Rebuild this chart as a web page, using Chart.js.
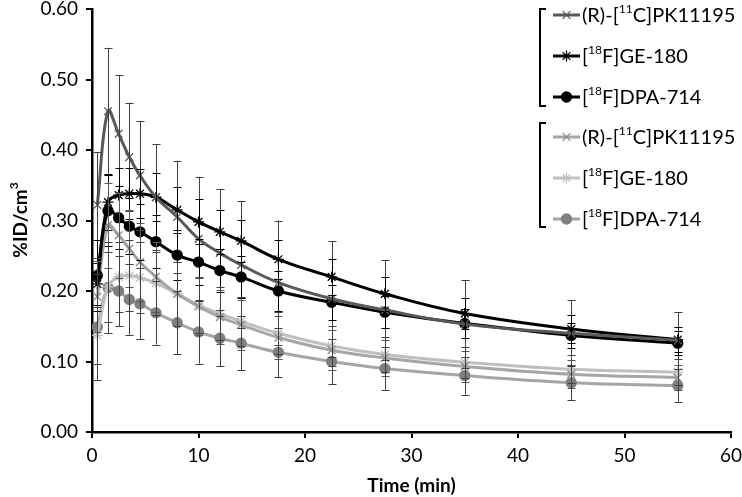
<!DOCTYPE html>
<html>
<head>
<meta charset="utf-8">
<script src="https://cdn.jsdelivr.net/npm/chart.js@4.4.0/dist/chart.umd.min.js"></script>
<style>
  html, body { margin: 0; padding: 0; background: #fff; }
  #wrap { width: 742px; height: 497px; }
</style>
</head>
<body>
<div id="wrap"><canvas id="myChart" width="742" height="497"></canvas></div>
<script>
// frame mid-times (min)
var times = [0.5, 1.5, 2.5, 3.5, 4.5, 6, 8, 10, 12, 14, 17.5, 22.5, 27.5, 35, 45, 55];

// baseline
var pkBase    = [0.322, 0.455, 0.423, 0.390, 0.364, 0.333, 0.305, 0.274, 0.254, 0.237, 0.212, 0.189, 0.173, 0.153, 0.140, 0.130];
var pkBaseSd  = [0.075, 0.090, 0.083, 0.077, 0.077, 0.075, 0.080, 0.088, 0.090, 0.090, 0.088, 0.082, 0.071, 0.062, 0.047, 0.040];
var geBase    = [0.210, 0.326, 0.336, 0.338, 0.338, 0.333, 0.315, 0.298, 0.284, 0.271, 0.245, 0.220, 0.196, 0.168, 0.146, 0.131];
var geBaseSd  = [0.030, 0.040, 0.038, 0.036, 0.035, 0.034, 0.033, 0.032, 0.031, 0.030, 0.028, 0.026, 0.024, 0.022, 0.020, 0.018];
var dpaBase   = [0.222, 0.314, 0.304, 0.292, 0.284, 0.270, 0.251, 0.241, 0.229, 0.220, 0.200, 0.184, 0.170, 0.154, 0.137, 0.126];
var dpaBaseSd = [0.050, 0.050, 0.045, 0.040, 0.040, 0.038, 0.035, 0.033, 0.030, 0.030, 0.028, 0.025, 0.023, 0.020, 0.018, 0.017];

// blocked
var pkBlk    = [0.192, 0.293, 0.279, 0.260, 0.241, 0.220, 0.196, 0.178, 0.163, 0.152, 0.134, 0.116, 0.105, 0.093, 0.082, 0.077];
var pkBlkSd  = [0.050, 0.060, 0.060, 0.055, 0.055, 0.050, 0.045, 0.040, 0.038, 0.035, 0.030, 0.028, 0.025, 0.022, 0.020, 0.018];
var geBlk    = [0.137, 0.206, 0.220, 0.222, 0.219, 0.211, 0.196, 0.180, 0.168, 0.157, 0.140, 0.122, 0.110, 0.099, 0.089, 0.085];
var geBlkSd  = [0.040, 0.050, 0.050, 0.050, 0.050, 0.045, 0.045, 0.040, 0.038, 0.035, 0.030, 0.028, 0.025, 0.022, 0.020, 0.018];
var dpaBlk   = [0.149, 0.205, 0.200, 0.188, 0.182, 0.169, 0.155, 0.142, 0.133, 0.126, 0.113, 0.100, 0.090, 0.080, 0.070, 0.066];
var dpaBlkSd = [0.075, 0.065, 0.050, 0.050, 0.050, 0.045, 0.045, 0.045, 0.040, 0.038, 0.035, 0.032, 0.030, 0.027, 0.025, 0.023];

// labels: {..} = superscript
var labels = ["(R)-[{11}C]PK11195", "[{18}F]GE-180", "[{18}F]DPA-714",
              "(R)-[{11}C]PK11195", "[{18}F]GE-180", "[{18}F]DPA-714"];

var FONT = "Lato";

var pts = function(vals) {
    return vals.map(function(v, i) { return {x: times[i], y: v}; });
};

var mk = function(label, vals, sd, line, mark, style, rad, eb) {
    return {
        label: label,
        data: pts(vals),
        sd: sd,
        ebColor: eb,
        borderColor: line,
        backgroundColor: mark,
        pointBorderColor: mark,
        pointBackgroundColor: mark,
        pointStyle: style,
        pointRadius: rad,
        pointBorderWidth: 1.3,
        borderWidth: 3,
        tension: 0.4,
        fill: false
    };
};

var datasets = [
    mk(labels[0], pkBase, pkBaseSd, "#595959", "#595959", "crossRot", 5.5, "#404040"),
    mk(labels[1], geBase, geBaseSd, "#000000", "#000000", "star", 5.5, "#000000"),
    mk(labels[2], dpaBase, dpaBaseSd, "#000000", "#000000", "circle", 5, "#000000"),
    mk(labels[3], pkBlk, pkBlkSd, "#a6a6a6", "#8c8c8c", "crossRot", 5.5, "#595959"),
    mk(labels[4], geBlk, geBlkSd, "#bfbfbf", "#bfbfbf", "star", 5.5, "#404040"),
    mk(labels[5], dpaBlk, dpaBlkSd, "#a6a6a6", "#7f7f7f", "circle", 5, "#404040")
];

// text with superscripts
var richText = function(c, str, x, y, size, bold) {
    var parts = str.split(/(\{[^}]*\})/);
    var w = bold ? "bold " : "";
    parts.forEach(function(p) {
        if (!p) return;
        if (p.charAt(0) == "{") {
            var s = p.slice(1, -1);
            c.font = w + Math.round(size * 0.62) + "px " + FONT;
            c.fillText(s, x, y - size * 0.36);
            x += c.measureText(s).width;
        } else {
            c.font = w + size + "px " + FONT;
            c.fillText(p, x, y);
            x += c.measureText(p).width;
        }
    });
};

var errorBars = {
    id: "errorBars",
    afterDatasetsDraw: function(chart) {
        var c = chart.ctx, xs = chart.scales.x, ys = chart.scales.y;
        c.save();
        c.lineWidth = 1;
        chart.data.datasets.forEach(function(ds) {
            c.strokeStyle = ds.ebColor;
            ds.data.forEach(function(p, i) {
                var px = Math.round(xs.getPixelForValue(p.x)) + 0.5;
                var top = ys.getPixelForValue(p.y + ds.sd[i]);
                var bot = ys.getPixelForValue(Math.max(0, p.y - ds.sd[i]));
                c.beginPath();
                c.moveTo(px, top); c.lineTo(px, bot);
                c.moveTo(px - 4, Math.round(top) + 0.5); c.lineTo(px + 4, Math.round(top) + 0.5);
                c.moveTo(px - 4, Math.round(bot) + 0.5); c.lineTo(px + 4, Math.round(bot) + 0.5);
                c.stroke();
            });
        });
        c.restore();
    }
};

var legendAndTitle = {
    id: "legendAndTitle",
    afterDraw: function(chart) {
        var c = chart.ctx;
        c.save();
        // y axis title
        c.translate(21, 220);
        c.rotate(-Math.PI / 2);
        c.fillStyle = "#000";
        c.textBaseline = "middle";
        c.font = "bold 19px " + FONT;
        var t = "%ID/cm";
        var tw = c.measureText(t).width;
        c.font = "bold 12px " + FONT;
        var sw = c.measureText("3").width;
        richText(c, "%ID/cm{3}", -(tw + sw) / 2, 0, 19, true);
        c.restore();

        // legend
        c.save();
        var bx = 540, lx0 = 553, lx1 = 580, tx = 582;
        var rows = [15, 56, 97, 137, 178, 219];
        c.strokeStyle = "#000";
        c.lineWidth = 2;
        [[9, 106], [123, 227]].forEach(function(b) {
            c.beginPath();
            c.moveTo(bx + 6, b[0]); c.lineTo(bx, b[0]); c.lineTo(bx, b[1]); c.lineTo(bx + 6, b[1]);
            c.stroke();
        });
        chart.data.datasets.forEach(function(ds, i) {
            var y = rows[i];
            c.strokeStyle = ds.borderColor;
            c.lineWidth = 3;
            c.beginPath(); c.moveTo(lx0, y); c.lineTo(lx1, y); c.stroke();
            c.strokeStyle = ds.pointBorderColor;
            c.fillStyle = ds.pointBackgroundColor;
            c.lineWidth = 1.3;
            Chart.helpers.drawPoint(c, {pointStyle: ds.pointStyle, radius: ds.pointRadius, borderWidth: 1.3}, (lx0 + lx1) / 2, y);
            c.fillStyle = "#000";
            c.textBaseline = "middle";
            richText(c, ds.label, tx, y + 1, 20, false);
        });
        c.restore();
    }
};

var ctx = document.getElementById("myChart");
var myChart = new Chart(ctx, {
    type: "line",
    data: { datasets: datasets },
    options: {
        responsive: false,
        animation: false,
        layout: { padding: { top: 9, right: 11, left: 0, bottom: 0 } },
        plugins: {
            legend: { display: false },
            tooltip: { enabled: false }
        },
        scales: {
            x: {
                type: "linear",
                min: 0, max: 60,
                ticks: { stepSize: 10, color: "#000", font: { family: FONT, size: 19 }, padding: 6 },
                grid: { drawOnChartArea: false, color: "#000", lineWidth: 2, tickLength: 6 },
                border: { color: "#000", width: 2.5 },
                title: { display: true, text: "Time (min)", color: "#000", font: { family: FONT, size: 19, weight: "bold" }, padding: 0 },
                afterFit: function(s) { s.height = 65; s.paddingRight = 0; s.paddingLeft = 0; }
            },
            y: {
                min: 0, max: 0.6,
                ticks: { stepSize: 0.1, color: "#000", font: { family: FONT, size: 19 }, padding: 8,
                         callback: function(v) { return v.toFixed(2); } },
                grid: { drawOnChartArea: false, color: "#000", lineWidth: 2, tickLength: 6 },
                border: { color: "#000", width: 2.5 },
                afterFit: function(s) { s.width = 92; s.paddingTop = 0; s.paddingBottom = 0; }
            }
        }
    },
    plugins: [errorBars, legendAndTitle]
});
</script>
</body>
</html>
